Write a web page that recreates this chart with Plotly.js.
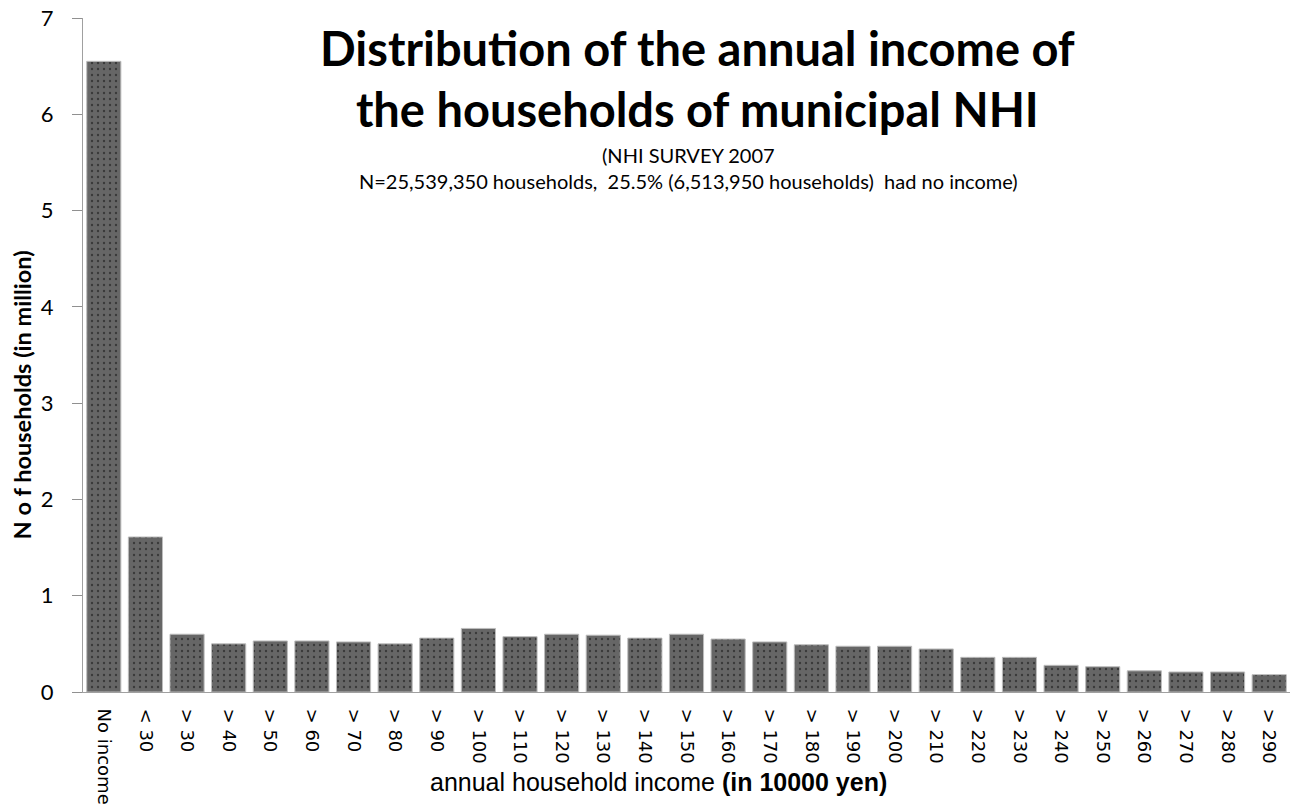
<!DOCTYPE html>
<html>
<head>
<meta charset="utf-8">
<script src="https://cdn.plot.ly/plotly-3.0.1.min.js"></script>
<style>html,body{margin:0;padding:0;background:#fff;}#chart{width:1295px;height:809px;}</style>
</head>
<body>
<div id="chart"></div>
<script>
const categories = ["No income","< 30","> 30","> 40","> 50","> 60","> 70","> 80","> 90","> 100","> 110","> 120","> 130","> 140","> 150","> 160","> 170","> 180","> 190","> 200","> 210","> 220","> 230","> 240","> 250","> 260","> 270","> 280","> 290"];
const households = [6.55,1.61,0.60,0.50,0.53,0.53,0.52,0.50,0.56,0.66,0.575,0.60,0.59,0.56,0.60,0.55,0.52,0.49,0.475,0.475,0.447,0.36,0.36,0.277,0.263,0.22,0.208,0.208,0.18];
const titleLines = ["Distribution of the annual income of","the households of municipal NHI"];
const subtitleLines = ["(NHI SURVEY 2007","N=25,539,350 households,  25.5% (6,513,950 households)  had no income)"];
const xTitle = 'annual household income <b>(in 10000 yen)</b>';
const yTitle = '<b>N o f households (in million)</b>';

const trace = {
  type: 'bar',
  x: categories,
  y: households,
  marker: {
    color: '#666666',
    line: {color: '#bdbdbd', width: 1},
    pattern: {shape: '.', size: 6, solidity: 0.12, fgcolor: '#3a3a3a', bgcolor: '#666666', fillmode: 'replace'}
  },
  hoverinfo: 'x+y'
};

const layout = {
  width: 1295, height: 809,
  margin: {l: 83, r: 5, t: 18, b: 117},
  paper_bgcolor: '#ffffff', plot_bgcolor: '#ffffff',
  bargap: 0.18,
  showlegend: false,
  font: {family: 'Lato, "Liberation Sans", sans-serif', color: '#000'},
  xaxis: {
    type: 'category',
    range: [-0.5, 28.5],
    tickangle: 90,
    ticks: '',
    showline: true, linecolor: '#a0a0a0', linewidth: 1,
    showgrid: false, zeroline: false,
    tickfont: {family: '"DejaVu Sans", sans-serif', size: 18, color: '#000'},
    ticklabelstandoff: 12
  },
  yaxis: {
    range: [0, 7],
    dtick: 1,
    ticks: 'outside', ticklen: 10, tickcolor: '#909090', tickwidth: 1,
    showline: true, linecolor: '#a0a0a0', linewidth: 1,
    showgrid: false, zeroline: false,
    tickfont: {family: 'Lato, sans-serif', size: 22, color: '#000'},
    ticklabelstandoff: 14
  },
  annotations: [
    {text: '<b>' + titleLines.join('<br>') + '</b>', xref: 'paper', yref: 'paper', x: 0.509, y: 1.0, yanchor: 'top', xanchor: 'center', yshift: 0, showarrow: false, align: 'center', font: {family: 'Lato, sans-serif', size: 47, color: '#000'}},
    {text: subtitleLines.join('<br>'), xref: 'paper', yref: 'paper', x: 0.502, y: 1.0, yanchor: 'top', xanchor: 'center', yshift: -123, showarrow: false, align: 'center', font: {family: 'Lato, sans-serif', size: 20, color: '#000'}},
    {text: xTitle, xref: 'paper', yref: 'paper', x: 0.477, y: 0, yanchor: 'middle', xanchor: 'center', yshift: -90, showarrow: false, font: {family: '"Liberation Sans", Arial, sans-serif', size: 25, color: '#000'}},
    {text: yTitle, xref: 'paper', yref: 'paper', x: 0, xanchor: 'center', xshift: -61, y: 0.44, yanchor: 'middle', textangle: -90, showarrow: false, font: {family: 'Lato, sans-serif', size: 23.5, color: '#000'}}
  ]
};

Plotly.newPlot('chart', [trace], layout, {displayModeBar: false, staticPlot: true});
</script>
</body>
</html>
